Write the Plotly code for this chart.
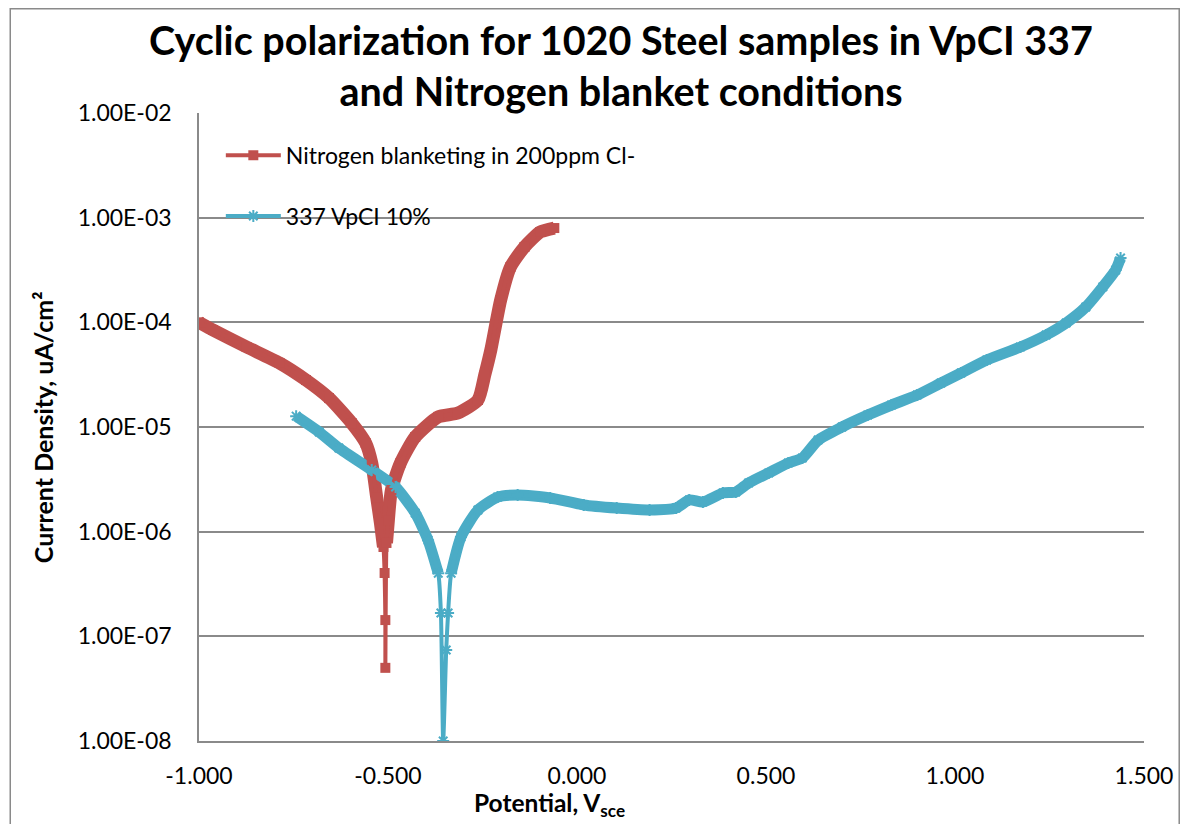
import plotly.graph_objects as go

# ---------------- data ----------------
red_name = "Nitrogen blanketing in 200ppm Cl-"
red_v = [-1.000, -0.963, -0.874, -0.787, -0.717, -0.656, -0.596, -0.559, -0.543, -0.530,
         -0.520, -0.512, -0.509, -0.507, -0.507,
         -0.504, -0.499, -0.491, -0.467, -0.428, -0.367, -0.315, -0.262, -0.244, -0.228,
         -0.202, -0.176, -0.139, -0.097, -0.060]
red_i = [1.0e-4, 8.45e-5, 5.81e-5, 4.09e-5, 2.81e-5, 1.89e-5, 1.09e-5, 7.03e-6, 4.53e-6, 2.14e-6,
         1.21e-6, 7.14e-7, 4.03e-7, 1.43e-7, 5.0e-8,
         7.8e-7, 1.29e-6, 2.50e-6, 4.53e-6, 8.03e-6, 1.25e-5, 1.36e-5, 1.81e-5, 3.14e-5, 5.44e-5,
         1.63e-4, 3.38e-4, 5.25e-4, 7.30e-4, 7.96e-4]

blue_name = "337 VpCI 10%"
blue_v = [-0.743, -0.682, -0.630, -0.543, -0.480, -0.428, -0.394, -0.367, -0.360, -0.354,
          -0.346, -0.341, -0.333, -0.307, -0.262, -0.210, -0.157, -0.071, 0.018, 0.105,
          0.192, 0.262, 0.297, 0.333, 0.386, 0.420, 0.454, 0.507, 0.559, 0.596,
          0.638, 0.701, 0.769, 0.832, 0.900, 0.963, 1.016, 1.084, 1.173, 1.241,
          1.294, 1.346, 1.391, 1.425, 1.438]
blue_i = [1.27e-5, 8.95e-6, 6.3e-6, 3.88e-6, 2.67e-6, 1.51e-6, 8.3e-7, 4.0e-7, 1.67e-7, 1.0e-8,
          7.4e-8, 1.67e-7, 4.0e-7, 8.9e-7, 1.61e-6, 2.14e-6, 2.24e-6, 2.10e-6, 1.80e-6, 1.68e-6,
          1.61e-6, 1.68e-6, 2.01e-6, 1.92e-6, 2.34e-6, 2.39e-6, 2.92e-6, 3.64e-6, 4.53e-6, 5.06e-6,
          7.5e-6, 1.0e-5, 1.30e-5, 1.62e-5, 2.02e-5, 2.63e-5, 3.28e-5, 4.37e-5, 5.81e-5, 7.57e-5,
          9.86e-5, 1.40e-4, 2.18e-4, 3.16e-4, 4.12e-4]

x_tickvals = [-1.0, -0.5, 0.0, 0.5, 1.0, 1.5]
x_ticktext = ["-1.000", "-0.500", "0.000", "0.500", "1.000", "1.500"]
y_tickvals = [1e-8, 1e-7, 1e-6, 1e-5, 1e-4, 1e-3, 1e-2]
y_ticktext = ["1.00E-08", "1.00E-07", "1.00E-06", "1.00E-05", "1.00E-04", "1.00E-03", "1.00E-02"]

title_text = "Cyclic polarization for 1020 Steel samples in VpCI 337<br>and Nitrogen blanket conditions"
x_title = "Potential, V<sub>sce</sub>"
y_title = "Current Density, uA/cm²"

RED = "#C0504D"
BLUE = "#4BACC6"
GRID = "#8a8a8a"
FONT = "Lato"

W, H = 1177, 816          # page has an 8px body margin
PL, PT = 191, 105         # plot area origin inside the figure
PW, PH = 952.5, 628

# split points (thin tails near corrosion potential)
r_a, r_b = 11, 15
b_a, b_b = 7, 12
SM = 0.6

fig = go.Figure()

for xs, ys in [(red_v[:r_a + 1], red_i[:r_a + 1]), (red_v[r_b:], red_i[r_b:])]:
    fig.add_trace(go.Scatter(x=xs, y=ys, mode="lines", showlegend=False, hoverinfo="skip",
                             line=dict(color=RED, width=13, shape="spline", smoothing=SM)))
for xs, ys in [(blue_v[:b_a + 1], blue_i[:b_a + 1]), (blue_v[b_b:], blue_i[b_b:])]:
    fig.add_trace(go.Scatter(x=xs, y=ys, mode="lines", showlegend=False, hoverinfo="skip",
                             line=dict(color=BLUE, width=11, shape="spline", smoothing=SM)))

fig.add_trace(go.Scatter(x=red_v, y=red_i, mode="lines+markers", name=red_name,
                         legendgroup="r",
                         line=dict(color=RED, width=4, shape="spline", smoothing=SM),
                         marker=dict(symbol="square", size=10, color=RED)))
fig.add_trace(go.Scatter(x=blue_v, y=blue_i, mode="lines+markers", name=blue_name,
                         legendgroup="b",
                         line=dict(color=BLUE, width=4, shape="spline", smoothing=SM),
                         marker=dict(symbol="asterisk-open", size=10,
                                     line=dict(color=BLUE, width=2), color=BLUE)))

fig.update_layout(
    width=W, height=H,
    margin=dict(l=PL, r=W - PL - PW, t=PT, b=H - PT - PH),
    paper_bgcolor="white", plot_bgcolor="white",
    font=dict(family=FONT, size=23, color="#000000"),
    title=dict(text=title_text, x=613 / W, xref="container", xanchor="center",
               y=1 - 47 / H, yref="container", yanchor="top",
               font=dict(family=FONT, size=39.5, color="#000000", weight="bold")),
    showlegend=True,
    legend=dict(x=22 / PW, y=0.967, xanchor="left", yanchor="top",
                bgcolor="rgba(0,0,0,0)", font=dict(family=FONT, size=23),
                traceorder="grouped", tracegroupgap=28, itemwidth=55),
    xaxis=dict(range=[-1, 1.5], tickvals=x_tickvals, ticktext=x_ticktext,
               showgrid=False, zeroline=False, showline=True, linecolor=GRID, linewidth=1.6,
               ticks="", ticklabelstandoff=14, tickfont=dict(size=23)),
    yaxis=dict(type="log", range=[-8, -2], tickvals=y_tickvals, ticktext=y_ticktext,
               showgrid=True, gridcolor=GRID, gridwidth=1.6,
               showline=True, linecolor=GRID, linewidth=1.6, zeroline=False,
               ticks="", ticklabelstandoff=21, tickfont=dict(size=23)),
    annotations=[
        dict(text=x_title, xref="paper", yref="paper", x=(552 - 199) / PW,
             y=(741 - 804) / PH, xanchor="center", yanchor="middle", showarrow=False,
             font=dict(family=FONT, size=24.5, color="#000000", weight="bold")),
        dict(text=y_title, xref="paper", yref="paper", x=(42 - 199) / PW,
             y=0.5, xanchor="center", yanchor="middle", showarrow=False, textangle=-90,
             font=dict(family=FONT, size=25, color="#000000", weight="bold")),
    ],
    shapes=[dict(type="rect", xref="paper", yref="paper",
                 x0=(0.75 - PL) / PW, x1=(1179 - PL) / PW,
                 y0=-(H + 20 - PT - PH) / PH, y1=1 + (PT - 0.75) / PH,
                 line=dict(color="#8a8a8a", width=1.5), layer="below")],
)

fig.write_html("out.html")
